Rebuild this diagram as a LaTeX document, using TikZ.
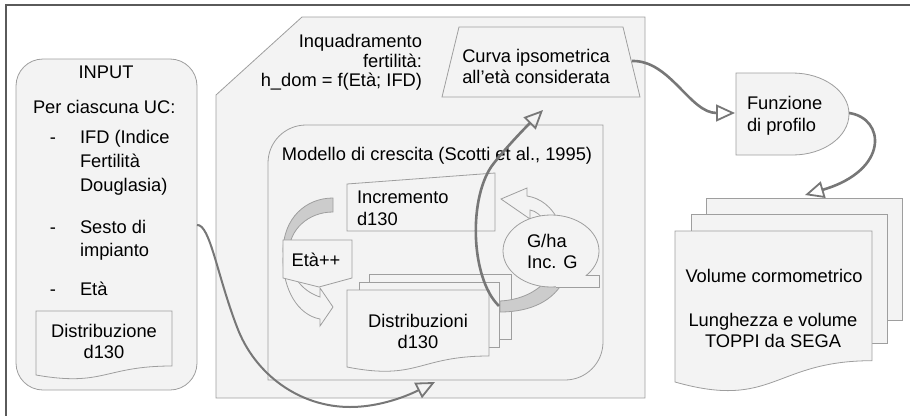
\documentclass[tikz,border=0pt]{standalone}
\usepackage{fontspec}
\setmainfont{Liberation Sans}
\usetikzlibrary{arrows.meta}
\definecolor{shfill}{HTML}{F3F3F3}
\definecolor{shline}{HTML}{9E9E9E}
\definecolor{conncol}{HTML}{777777}
\definecolor{bandcol}{HTML}{CCCCCC}
\definecolor{framecol}{HTML}{5A5A5A}
\begin{document}
\begin{tikzpicture}[x=1pt,y=-1pt,
  shp/.style={fill=shfill,draw=shline,line width=0.8pt},
  bandshp/.style={fill=bandcol,draw=shline,line width=0.8pt},
  txt/.style={inner sep=0pt,outer sep=0pt,font=\fontsize{18.3}{21}\selectfont,text=black},
  arrowtip/.style={-{Triangle[open,length=19pt,width=17pt,line width'=1.8pt]}},
  conn/.style={draw=conncol,line width=2.6pt,arrowtip},
  connthin/.style={draw=conncol,line width=2pt,arrowtip},
]
\useasboundingbox (0,0) rectangle (910,415);
% outer frame
\draw[draw=framecol,line width=1.2pt] (6,420) -- (6,5) -- (915,5);

% INPUT box
\draw[shp,rounded corners=27pt] (16,59) rectangle (197,390);
\node[txt,anchor=base] (inputT) at (106,78) {INPUT};
\node[txt,anchor=base west] (perT) at (33,113) {Per ciascuna UC:};
\node[txt,anchor=base] (d1) at (53,143) {-};
\node[txt,anchor=base west] (ifd1) at (80,143) {IFD (Indice};
\node[txt,anchor=base west] (ifd2) at (80,167) {Fertilità};
\node[txt,anchor=base west] (ifd3) at (80,191) {Douglasia)};
\node[txt,anchor=base] (d2) at (53,233) {-};
\node[txt,anchor=base west] (ses1) at (80,233) {Sesto di};
\node[txt,anchor=base west] (ses2) at (80,256) {impianto};
\node[txt,anchor=base] (d3) at (53,295) {-};
\node[txt,anchor=base west] (eta) at (80,295) {Età};
\draw[shp] (36,311) -- (172,311) -- (172,366) .. controls (104,366) and (104,387) .. (36,375) -- cycle;
\node[txt,anchor=base] (distin1) at (104,337) {Distribuzione};
\node[txt,anchor=base] (distin2) at (104,358) {d130};

% Inquadramento pentagon
\draw[shp] (216,95) -- (302,17) -- (645,17) -- (645,398) -- (216,398) -- cycle;
\node[txt,anchor=base east] (inq1) at (422,47) {Inquadramento};
\node[txt,anchor=base east] (inq2) at (422,67) {fertilità:};
\node[txt,anchor=base east] (inq3) at (422,86) {h\_dom = f(Età; IFD)};

% Curva ipsometrica trapezoid
\draw[shp] (459,27) -- (623,27) -- (640,97) -- (442,97) -- cycle;
\node[txt,anchor=base] (cur1) at (536,62) {Curva ipsometrica};
\node[txt,anchor=base] (cur2) at (536,83) {all’età considerata};

% Modello di crescita box
\draw[shp] (268,380) -- (268,163) .. controls (268,142) and (285,125) .. (306,125) -- (603,125) -- (603,342) .. controls (603,363) and (586,380) .. (565,380) -- cycle;
\node[txt,anchor=base] (mod) at (437,160) {Modello di crescita (Scotti et al., 1995)};

% Incremento
\draw[shp] (347,184) -- (495,173) -- (495,231) -- (347,231) -- cycle;
\node[txt,anchor=base west] (inc1) at (357,203) {Incremento};
\node[txt,anchor=base west] (inc2) at (357,225) {d130};

% left curved arrow
\draw[bandshp] (333,198) .. controls (306,198) and (283,218) .. (283,252) -- (289,252) .. controls (289,230) and (308,212) .. (333,212) -- cycle;
\draw[shp] (283,258) .. controls (283,290) and (298,315) .. (320,319) -- (320,326) -- (333,307) -- (320,288) -- (320,297) .. controls (305,292) and (292,280) .. (289,258) -- cycle;
% Eta++
\draw[shp] (283,240) -- (352,240) -- (352,278) -- (319,287) -- (283,278) -- cycle;
\node[txt,anchor=base] (etapp) at (316,266) {Età++};

% Distribuzioni stack
\draw[shp] (369,274) rectangle (511,339);
\draw[shp] (359,282) rectangle (499,347);
\draw[shp] (347,290) -- (489,290) -- (489,356) .. controls (418,356) and (418,381) .. (347,367) -- cycle;
\node[txt,anchor=base] (dis1) at (418,327) {Distribuzioni};
\node[txt,anchor=base] (dis2) at (418,348) {d130};

% right curved arrow
\draw[bandshp] (500,301) -- (500,312) .. controls (532,312) and (554,300) .. (564,280) -- (548,278) .. controls (538,292) and (520,300) .. (500,301) -- cycle;
\draw[shp] (560,224) .. controls (552,206) and (540,198) .. (527,196) -- (527,188) -- (501,199) -- (530,219) -- (530,210) .. controls (536,211) and (541,215) .. (546,224) -- cycle;
% callout
\draw[shp] (551,251) ellipse [x radius=48pt, y radius=36pt];
\fill[shfill] (586,276) -- (599,276) -- (599,287) -- (556,287) -- (556,282) -- (580,272) -- cycle;
\draw[draw=shline,line width=0.8pt] (586,275.6) -- (599,275.6) -- (599,287) -- (556,287);
\node[txt,anchor=base west] (gha1) at (527,247) {G/ha};
\node[txt,anchor=base west] (gha2) at (527,268) {Inc. G};

% Funzione di profilo
\draw[shp] (736,73) -- (792.5,73) .. controls (823.7,73) and (849,91.4) .. (849,114) .. controls (849,136.6) and (823.7,155) .. (792.5,155) -- (736,155) -- cycle;
\node[txt,anchor=base west] (fun1) at (747,109) {Funzione};
\node[txt,anchor=base west] (fun2) at (747,131) {di profilo};

% Volume stack
\draw[shp] (706,198) rectangle (902,320);
\draw[shp] (691,214) rectangle (887,343);
\draw[shp] (675,231) -- (872,231) -- (872,360.7) .. controls (773.5,360.7) and (773.5,410) .. (675,382) -- cycle;
\node[txt,anchor=base] (vol1) at (774,282) {Volume cormometrico};
\node[txt,anchor=base] (vol2) at (773,326) {Lunghezza e volume};
\node[txt,anchor=base] (vol3) at (773,347) {TOPPI da SEGA};

% connector endpoints
\coordinate (inR) at (197,225);
\coordinate (distB) at (435,382);
\coordinate (distR) at (499,306);
\coordinate (curvaB) at (543,110);
\coordinate (curvaR) at (632,61);
\coordinate (funL) at (735,113);
\coordinate (funR) at (849,113);
\coordinate (volT) at (805,195);

\draw[connthin] (inR) .. controls (210,224) and (217,275) .. (237,327) .. controls (255,375) and (300,407) .. (350,407) .. controls (385,407) and (415,392) .. (distB);
\draw[conn] (distR) .. controls (470,278) and (468,195) .. (494,163) .. controls (510,143) and (528,125) .. (curvaB);
\draw[conn] (curvaR) .. controls (670,60) and (690,113) .. (funL);
\draw[conn] (funR) .. controls (885,118) and (890,170) .. (volT);
\end{tikzpicture}
\end{document}
